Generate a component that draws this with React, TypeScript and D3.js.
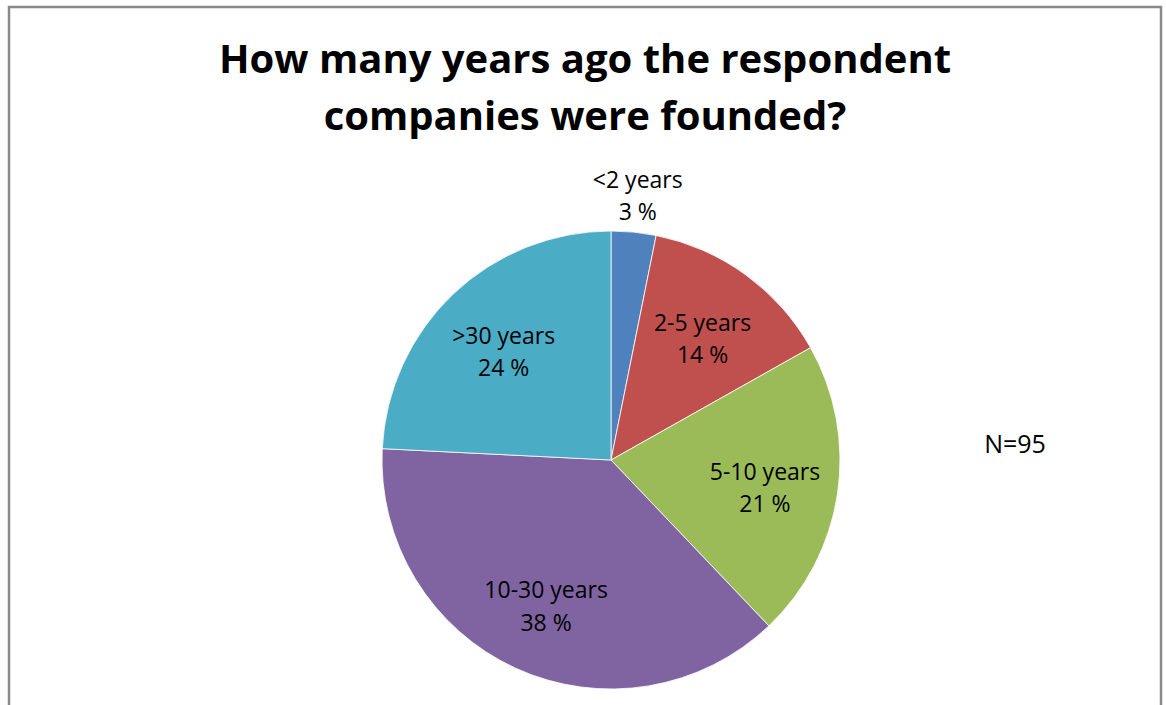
import { arc, pie, PieArcDatum } from "d3";

const categories = ["<2 years", "2-5 years", "5-10 years", "10-30 years", ">30 years"];
const counts = [3, 13, 20, 36, 23];
const colors = ["#4F81BD", "#C0504D", "#9BBB59", "#8064A2", "#4BACC6"];
const titleLines = ["How many years ago the respondent", "companies were founded?"];
const note = "N=95";

type Slice = { name: string; value: number; color: string };

export default function App() {
  const width = 1166;
  const height = 705;
  const cx = 611;
  const cy = 460;
  const r = 229;

  const data: Slice[] = categories.map((name, i) => ({ name, value: counts[i], color: colors[i] }));
  const total = counts.reduce((a, b) => a + b, 0);

  const arcs = pie<Slice>().sort(null).value((d) => d.value)(data);
  const sliceArc = arc<PieArcDatum<Slice>>().innerRadius(0).outerRadius(r);
  const labelArc = arc<PieArcDatum<Slice>>().innerRadius(r * 0.68).outerRadius(r * 0.68);
  const outsideArc = arc<PieArcDatum<Slice>>().innerRadius(r * 1.18).outerRadius(r * 1.18);

  const font = "'Open Sans', 'Noto Sans', sans-serif";

  return (
    <div style={{ position: "absolute", left: 0, top: 0 }}>
      <svg width={width} height={height} style={{ display: "block", background: "#fff" }}>
        <rect x={9} y={7} width={1152} height={740} fill="#fff" stroke="#898989" strokeWidth={2.5} />
        {titleLines.map((t, i) => (
          <text
            key={t}
            x={585}
            y={73 + i * 57}
            textAnchor="middle"
            fontFamily={font}
            fontWeight="bold"
            fontSize={40}
            fill="#000"
          >
            {t}
          </text>
        ))}
        <g transform={`translate(${cx},${cy})`}>
          {arcs.map((a) => (
            <path key={a.data.name} d={sliceArc(a) || ""} fill={a.data.color} stroke="#fff" strokeWidth={0.8} />
          ))}
          {arcs.map((a) => {
            const small = a.endAngle - a.startAngle < 0.3;
            const [lx, ly] = small ? outsideArc.centroid(a) : labelArc.centroid(a);
            const pct = Math.round((a.data.value / total) * 100);
            return (
              <text
                key={a.data.name}
                x={lx}
                y={ly}
                textAnchor="middle"
                fontFamily={font}
                fontSize={23}
                fill="#000"
              >
                <tspan x={lx} dy="-0.15em">{a.data.name}</tspan>
                <tspan x={lx} dy="1.42em">{`${pct} %`}</tspan>
              </text>
            );
          })}
        </g>
        <text x={1015} y={453} textAnchor="middle" fontFamily={font} fontSize={25} fill="#000">
          {note}
        </text>
      </svg>
    </div>
  );
}
